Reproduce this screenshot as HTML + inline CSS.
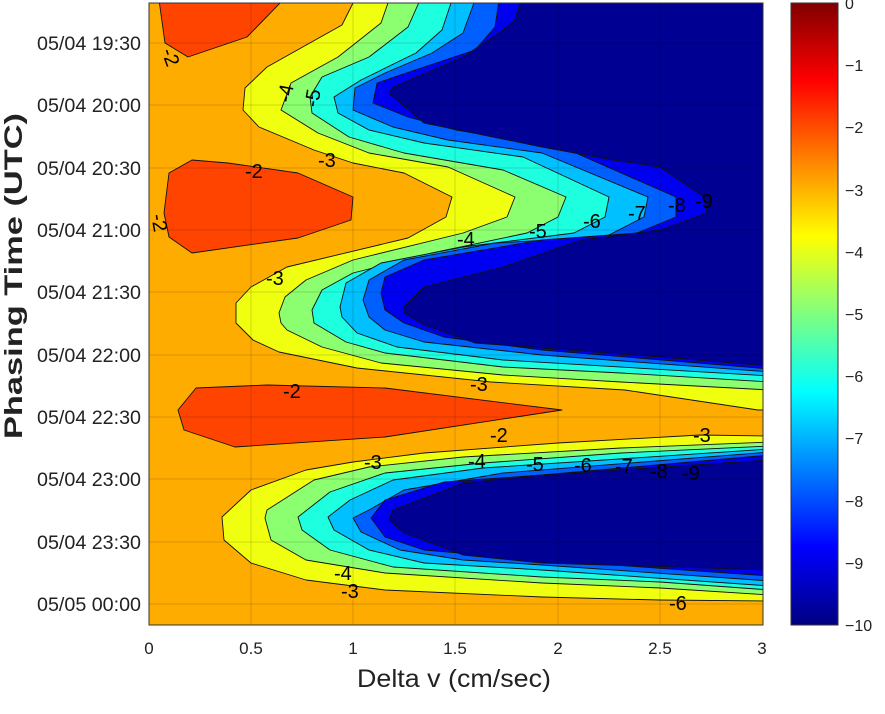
<!DOCTYPE html>
<html><head><meta charset="utf-8"><style>
body{margin:0;background:#fff;}
svg text{font-family:"Liberation Sans",sans-serif;}
</style></head><body>
<svg width="885" height="709" viewBox="0 0 885 709" xmlns="http://www.w3.org/2000/svg">
<defs>
<linearGradient id="jet" x1="0" y1="0" x2="0" y2="1">
<stop offset="0" stop-color="#800000"/><stop offset="0.125" stop-color="#ff0000"/>
<stop offset="0.375" stop-color="#ffff00"/><stop offset="0.625" stop-color="#00ffff"/>
<stop offset="0.875" stop-color="#0000ff"/><stop offset="1" stop-color="#000080"/>
</linearGradient>
<clipPath id="pc"><rect x="149" y="3" width="614" height="622"/></clipPath>
</defs>
<g clip-path="url(#pc)" stroke="#111" stroke-width="0.9" stroke-linejoin="round">
<rect x="149" y="3" width="614" height="622" fill="#ffac00" stroke="none"/>
<polygon fill="#f0ff10" points="353,3 342,25 267,67 245,88 243,110 259,127 314,150 353,163 404,173 452,197 446,217 408,238 287,267 251,287 236,303 236,323 253,340 279,352 357,368 491,382 625,390 758,410 770,410 770,0 353,0"/>
<polygon fill="#f0ff10" points="770,436 700,435 558,443 424,453 353,462 306,470 251,490 222,517 224,540 251,563 306,580 385,590 542,597 660,600 770,601"/>
<polygon fill="#8cff70" points="389,0 381,23 338,57 291,83 281,110 318,133 369,153 448,167 515,197 507,217 463,233 353,260 306,280 285,297 279,313 281,323 287,330 322,347 381,363 503,375 621,382 770,390 770,0"/>
<polygon fill="#8cff70" points="770,442 621,448 463,457 369,467 314,480 267,510 265,518 271,540 306,560 385,573 542,583 660,588 770,595"/>
<polygon fill="#1effe0" points="420,0 408,27 369,57 322,77 310,97 312,113 349,137 404,153 503,170 566,197 558,217 527,233 432,253 353,273 322,290 312,310 314,323 346,342 385,353 503,367 621,373 770,382 770,0"/>
<polygon fill="#1effe0" points="770,446 621,453 483,463 385,473 330,492 298,517 302,530 330,550 393,567 542,577 660,582 770,590"/>
<polygon fill="#00c0ff" points="452,0 442,30 416,53 361,80 334,97 338,113 369,130 424,143 523,157 609,197 605,217 574,233 463,247 381,263 346,283 340,307 342,317 357,333 397,347 503,360 770,376 770,0"/>
<polygon fill="#00c0ff" points="770,449 483,468 393,480 350,500 328,517 334,530 369,550 424,563 542,570 770,586"/>
<polygon fill="#0060ff" points="475,0 463,33 432,53 385,73 355,88 353,110 393,127 448,140 542,153 648,197 644,217 605,237 495,243 404,260 369,280 363,300 369,317 385,330 424,342 542,355 770,372 770,0"/>
<polygon fill="#0060ff" points="770,452 503,473 404,490 369,510 353,518 361,532 400,550 463,560 542,565 770,581"/>
<polygon fill="#0000f0" points="499,0 495,27 475,50 424,67 377,83 373,103 408,117 456,130 562,147 676,197 676,217 637,233 542,240 424,260 385,277 381,293 385,310 404,323 444,337 542,350 770,369 770,0"/>
<polygon fill="#0000f0" points="770,455 542,475 444,482 385,500 371,518 385,537 424,550 542,560 770,576"/>
<polygon fill="#000092" points="521,0 515,20 503,30 463,57 393,87 389,93 424,123 542,147 613,160 660,167 704,197 707,213 660,230 581,240 503,267 424,287 404,307 404,313 424,325 475,343 542,348 660,357 770,366 770,0"/>
<polygon fill="#000092" points="770,460 542,475 463,483 393,510 389,520 404,533 463,555 542,563 770,570"/>
<polygon fill="#ff4400" points="159,0 165,43 188,57 247,37 283,0"/>
<polygon fill="#ff4400" points="192,160 169,173 164,213 169,237 192,253 298,238 351,220 353,197 298,173 228,163"/>
<polygon fill="#ff4400" points="196,388 178,410 184,430 235,447 385,437 562,410 385,388 267,385"/>
</g>
<g stroke="#000" stroke-opacity="0.15" stroke-width="1">
<line x1="251" y1="3" x2="251" y2="625"/><line x1="353" y1="3" x2="353" y2="625"/><line x1="455" y1="3" x2="455" y2="625"/><line x1="558" y1="3" x2="558" y2="625"/><line x1="660" y1="3" x2="660" y2="625"/>
<line x1="149" y1="43" x2="763" y2="43"/><line x1="149" y1="105" x2="763" y2="105"/><line x1="149" y1="168" x2="763" y2="168"/><line x1="149" y1="230" x2="763" y2="230"/><line x1="149" y1="292" x2="763" y2="292"/><line x1="149" y1="355" x2="763" y2="355"/><line x1="149" y1="417" x2="763" y2="417"/><line x1="149" y1="479" x2="763" y2="479"/><line x1="149" y1="542" x2="763" y2="542"/><line x1="149" y1="604" x2="763" y2="604"/>
</g>
<rect x="149" y="3" width="614" height="622" fill="none" stroke="#333" stroke-width="1"/>
<g font-size="20" fill="#000">
<text x="162" y="60" transform="rotate(70 168 55)">-2</text>
<text x="245" y="178">-2</text><text x="152" y="226" transform="rotate(80 158 220)">-2</text>
<text x="318" y="167">-3</text><text x="266" y="285">-3</text>
<text x="278" y="102" transform="rotate(-80 285 95)">-4</text>
<text x="306" y="106" transform="rotate(-80 313 100)">-5</text>
<text x="457" y="246">-4</text><text x="529" y="238">-5</text><text x="583" y="228">-6</text><text x="628" y="220">-7</text><text x="668" y="212">-8</text><text x="695" y="208">-9</text>
<text x="283" y="398">-2</text><text x="470" y="391">-3</text><text x="490" y="442">-2</text><text x="693" y="442">-3</text>
<text x="364" y="469">-3</text><text x="468" y="468">-4</text><text x="526" y="471">-5</text><text x="574" y="472">-6</text><text x="615" y="473">-7</text><text x="650" y="478">-8</text><text x="682" y="480">-9</text>
<text x="334" y="580">-4</text><text x="341" y="598">-3</text><text x="669" y="610">-6</text>
</g>
<g font-size="19" fill="#222" text-anchor="end">
<text x="141" y="50" textLength="104" lengthAdjust="spacingAndGlyphs">05/04 19:30</text><text x="141" y="112" textLength="104" lengthAdjust="spacingAndGlyphs">05/04 20:00</text><text x="141" y="175" textLength="104" lengthAdjust="spacingAndGlyphs">05/04 20:30</text><text x="141" y="237" textLength="104" lengthAdjust="spacingAndGlyphs">05/04 21:00</text><text x="141" y="299" textLength="104" lengthAdjust="spacingAndGlyphs">05/04 21:30</text><text x="141" y="362" textLength="104" lengthAdjust="spacingAndGlyphs">05/04 22:00</text><text x="141" y="424" textLength="104" lengthAdjust="spacingAndGlyphs">05/04 22:30</text><text x="141" y="486" textLength="104" lengthAdjust="spacingAndGlyphs">05/04 23:00</text><text x="141" y="549" textLength="104" lengthAdjust="spacingAndGlyphs">05/04 23:30</text><text x="141" y="611" textLength="104" lengthAdjust="spacingAndGlyphs">05/05 00:00</text>
</g>
<g font-size="17" fill="#222" text-anchor="middle">
<text x="149" y="654">0</text><text x="251" y="654">0.5</text><text x="353" y="654">1</text><text x="455" y="654">1.5</text><text x="558" y="654">2</text><text x="660" y="654">2.5</text><text x="762" y="654">3</text>
</g>
<text x="357" y="687" font-size="25" textLength="194" lengthAdjust="spacingAndGlyphs" fill="#222">Delta v (cm/sec)</text>
<text x="0" y="0" font-size="25" font-weight="bold" text-anchor="middle" fill="#222" textLength="326" lengthAdjust="spacingAndGlyphs" transform="translate(22 276) rotate(-90)">Phasing Time (UTC)</text>
<rect x="791" y="3" width="47" height="622" fill="url(#jet)" stroke="#333" stroke-width="1"/>
<g font-size="16" fill="#222">
<text x="845" y="9">0</text><text x="845" y="71">−1</text><text x="845" y="133">−2</text><text x="845" y="196">−3</text><text x="845" y="258">−4</text><text x="845" y="320">−5</text><text x="845" y="382">−6</text><text x="845" y="444">−7</text><text x="845" y="507">−8</text><text x="845" y="569">−9</text><text x="845" y="631">−10</text>
</g>
</svg>
</body></html>
